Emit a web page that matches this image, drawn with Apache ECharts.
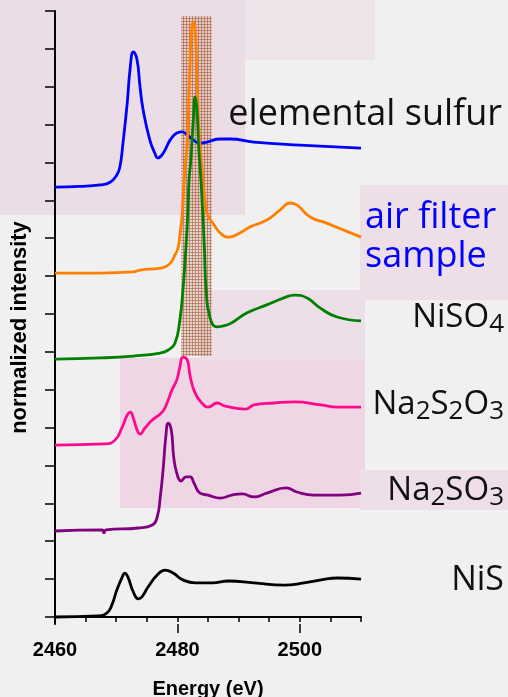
<!DOCTYPE html>
<html><head><meta charset="utf-8">
<script src="https://cdn.jsdelivr.net/npm/echarts@6/dist/echarts.min.js"></script>
<style>html,body{margin:0;padding:0;background:#f0f0f0}#c{width:508px;height:697px}</style>
</head><body><div id="c"></div>
<script>
// ---- axis settings / ticks ----
const xMin = 2460, xMax = 2510;
const xMinorTicks = [2460,2465,2470,2475,2480,2485,2490,2495,2500,2505,2510];
const xMajorTicks = [2480,2500];
const xLabels = [2460,2480,2500];
const yTicks = [0,1,2,3,4,5,6,7,8,9,10,11,12,13,14,15,16];
const yMin = -0.185, yMax = 16;

// ---- spectra (energy eV, stacked normalized intensity) ----
const elementalSulfur = [[2460,11.35],[2464,11.37],[2467.4,11.41],[2469,11.48],[2470.1,11.67],[2470.6,11.88],[2471.1,12.5],[2471.8,13.57],[2472.3,14.52],[2472.8,14.92],[2473.4,14.71],[2473.9,13.99],[2474.4,13.39],[2475.5,12.59],[2476.3,12.25],[2476.8,12.12],[2477.7,12.25],[2478.8,12.59],[2479.9,12.78],[2480.8,12.81],[2481.6,12.73],[2482.6,12.59],[2483.7,12.51],[2484.8,12.54],[2487,12.62],[2488.6,12.62],[2492.5,12.54],[2500,12.46],[2510,12.38]];
const airFilter = [[2460,9.08],[2467.4,9.08],[2472.8,9.11],[2473.9,9.16],[2477.2,9.21],[2478.3,9.27],[2479.1,9.40],[2479.6,9.56],[2480.1,9.74],[2480.4,10.09],[2480.8,10.67],[2481.1,11.54],[2481.6,12.51],[2481.9,13.83],[2482.2,15.16],[2482.6,15.71],[2482.9,15.50],[2483.2,14.26],[2483.5,12.94],[2484.0,11.88],[2484.4,11.14],[2484.8,10.69],[2485.3,10.51],[2485.8,10.40],[2487.0,10.14],[2488.4,10.03],[2490.2,10.14],[2491.9,10.30],[2494.6,10.48],[2496.8,10.75],[2498.4,10.93],[2499.5,10.88],[2501.7,10.56],[2504.4,10.40],[2507.1,10.22],[2510,10.03]];
const niSO4 = [[2460,6.81],[2467.4,6.84],[2472.8,6.89],[2477.2,6.97],[2478.5,7.05],[2479.6,7.23],[2480.4,7.84],[2480.9,8.63],[2481.4,9.77],[2481.7,10.67],[2481.9,11.54],[2482.2,12.07],[2482.6,13.12],[2482.9,13.73],[2483.2,13.39],[2483.5,12.33],[2483.9,11.41],[2484.4,9.77],[2484.7,8.63],[2485.3,7.92],[2486.5,7.66],[2488.1,7.71],[2489.1,7.79],[2491.4,8.03],[2494.6,8.24],[2497.3,8.42],[2499.2,8.50],[2501.2,8.42],[2503.3,8.16],[2506.1,7.92],[2510,7.82]];
const na2S2O3 = [[2460,4.54],[2468.2,4.57],[2469.8,4.67],[2471.0,5.02],[2471.8,5.33],[2472.3,5.41],[2472.8,5.25],[2473.4,4.94],[2473.9,4.83],[2474.7,4.99],[2475.9,5.20],[2477.5,5.41],[2478.3,5.65],[2479.1,5.99],[2479.9,6.26],[2480.4,6.60],[2480.9,6.86],[2481.6,6.79],[2482.1,6.34],[2482.9,5.91],[2484.0,5.65],[2485.0,5.54],[2486.5,5.65],[2487.8,5.57],[2491.1,5.49],[2492.5,5.60],[2495.8,5.65],[2499.1,5.68],[2503.5,5.60],[2506.1,5.54],[2510,5.54]];
const na2SO3 = [[2460,2.27],[2467.7,2.30],[2468.0,2.22],[2468.3,2.30],[2473.6,2.35],[2475.9,2.43],[2476.7,2.64],[2477.2,3.17],[2477.7,3.96],[2478.1,4.75],[2478.5,5.12],[2479.0,4.94],[2479.4,4.22],[2479.9,3.80],[2480.6,3.59],[2481.4,3.70],[2482.1,3.70],[2482.7,3.54],[2483.7,3.27],[2485.0,3.22],[2487.0,3.14],[2488.9,3.22],[2490.6,3.25],[2492.5,3.17],[2494.6,3.27],[2497.8,3.41],[2499.5,3.30],[2502.3,3.22],[2506.7,3.22],[2510,3.27]];
const niS = [[2460,0],[2467,0.03],[2468.5,0.11],[2469.3,0.32],[2470.1,0.71],[2471.0,1.06],[2471.4,1.16],[2471.9,1.06],[2472.8,0.66],[2473.6,0.48],[2474.2,0.53],[2475.2,0.79],[2476.7,1.11],[2478.0,1.24],[2479.3,1.16],[2480.9,0.98],[2482.9,0.90],[2485.7,0.90],[2488.4,0.95],[2492.5,0.90],[2497.4,0.84],[2500.7,0.90],[2503.5,0.98],[2506.1,1.03],[2510,1.00]];

// highlighted energy window
const bandX = [2480.6, 2485.6];
const bandY = [6.89, 15.87];

const seriesNames = ['elemental sulfur','air filter sample','NiSO4','Na2S2O3','Na2SO3','NiS'];
const seriesData = [elementalSulfur, airFilter, niSO4, na2S2O3, na2SO3, niS];
const seriesColors = ['#0000ff','#ff8000','#008000','#ff0a8c','#800080','#000000'];
const seriesZ = [1,3,3,3,3,3];

// hatch pattern
const pat = document.createElement('canvas');
pat.width = 3; pat.height = 3;
const g = pat.getContext('2d');
g.fillStyle = 'rgba(222,185,170,0.5)'; g.fillRect(0,0,3,3);
g.fillStyle = 'rgba(165,95,65,0.6)'; g.fillRect(0,0,3,1); g.fillRect(0,0,1,3);

const chart = echarts.init(document.getElementById('c'), null, {renderer:'canvas'});

const series = seriesData.map((d,i)=>({
  name: seriesNames[i], type:'line', data:d, showSymbol:false, symbol:'none',
  smooth:0.5, z:seriesZ[i],
  lineStyle:{color:seriesColors[i], width:2.8}, itemStyle:{color:seriesColors[i]},
  silent:true
}));
series.push({
  type:'line', data:[], z:2, silent:true,
  markArea:{silent:true, itemStyle:{color:{image:pat, repeat:'repeat'}},
    data:[[{xAxis:bandX[0], yAxis:bandY[0]},{xAxis:bandX[1], yAxis:bandY[1]}]]}
});

const txtFont = '"Open Sans", "DejaVu Sans", sans-serif';
function label(x, y, rich, color, align, size){
  return {type:'text', x:x, y:y, z:100, silent:true,
    style:{text:rich, fill:color, align:align, verticalAlign:'middle',
      fontFamily:txtFont, fontSize:size,
      rich:{
        n:{fontFamily:txtFont, fontSize:size, lineHeight:40, fill:color},
        s:{fontFamily:txtFont, fontSize:Math.round(size*0.78), lineHeight:14, verticalAlign:'bottom', fill:color}
      }}};
}

const bgRects = [
  {x:0,y:0,w:245,h:215,c:'#ebdde6'},
  {x:245,y:0,w:130,h:60,c:'#ede4ea'},
  {x:120,y:358,w:245,h:150,c:'#eed6e5'},
  {x:360,y:185,w:148,h:115,c:'#eddee7'},
  {x:200,y:290,w:165,h:70,c:'#eddfe8'},
  {x:360,y:470,w:148,h:40,c:'#eddee7'}
];

const axisFont = '"Liberation Sans", Arial, sans-serif';
chart.setOption({
  backgroundColor:'#f0f0f0',
  animation:false,
  grid:{left:55, right:147, top:11, bottom:73, containLabel:false, outerBoundsMode:'none'},
  graphic: bgRects.map(r=>({type:'rect', z:-10, silent:true, shape:{x:r.x,y:r.y,width:r.w,height:r.h}, style:{fill:r.c}})).concat([
    label(502, 115, '{n|elemental sulfur}', '#111', 'right', 36),
    label(365, 218, '{n|air filter}', '#0000ff', 'left', 36),
    label(365, 257, '{n|sample}', '#0000ff', 'left', 36),
    label(504, 318, '{n|NiSO}{s|4}', '#111', 'right', 33),
    label(504, 405, '{n|Na}{s|2}{n|S}{s|2}{n|O}{s|3}', '#111', 'right', 33),
    label(504, 491, '{n|Na}{s|2}{n|SO}{s|3}', '#111', 'right', 33),
    label(504, 580, '{n|NiS}', '#111', 'right', 34)
  ]),
  xAxis:[{
    type:'value', min:xMin, max:xMax,
    name:'Energy (eV)', nameLocation:'middle', nameGap:55,
    nameTextStyle:{fontFamily:axisFont, fontWeight:'bold', fontSize:20, color:'#000'},
    axisLine:{show:true, lineStyle:{color:'#000', width:2}},
    axisTick:{show:true, customValues:xMinorTicks, length:5, lineStyle:{color:'#000', width:1.5}},
    axisLabel:{show:true, customValues:xLabels, margin:16, formatter:v=>String(v),
      fontFamily:axisFont, fontWeight:'bold', fontSize:20, color:'#000'},
    splitLine:{show:false}
  },{
    type:'value', min:xMin, max:xMax, position:'bottom',
    axisLine:{show:false},
    axisTick:{show:true, customValues:xMajorTicks, length:9, lineStyle:{color:'#000', width:1.5}},
    axisLabel:{show:false}, splitLine:{show:false}
  }],
  yAxis:{
    type:'value', min:yMin, max:yMax,
    name:'normalized intensity', nameLocation:'middle', nameGap:24,
    nameTextStyle:{fontFamily:axisFont, fontWeight:'bold', fontSize:22, color:'#000', padding:[0,20,0,0]},
    axisLine:{show:true, lineStyle:{color:'#000', width:2}},
    axisTick:{show:true, customValues:yTicks, length:10, lineStyle:{color:'#000', width:1.5}},
    axisLabel:{show:false}, splitLine:{show:false}
  },
  series: series
});
</script></body></html>
